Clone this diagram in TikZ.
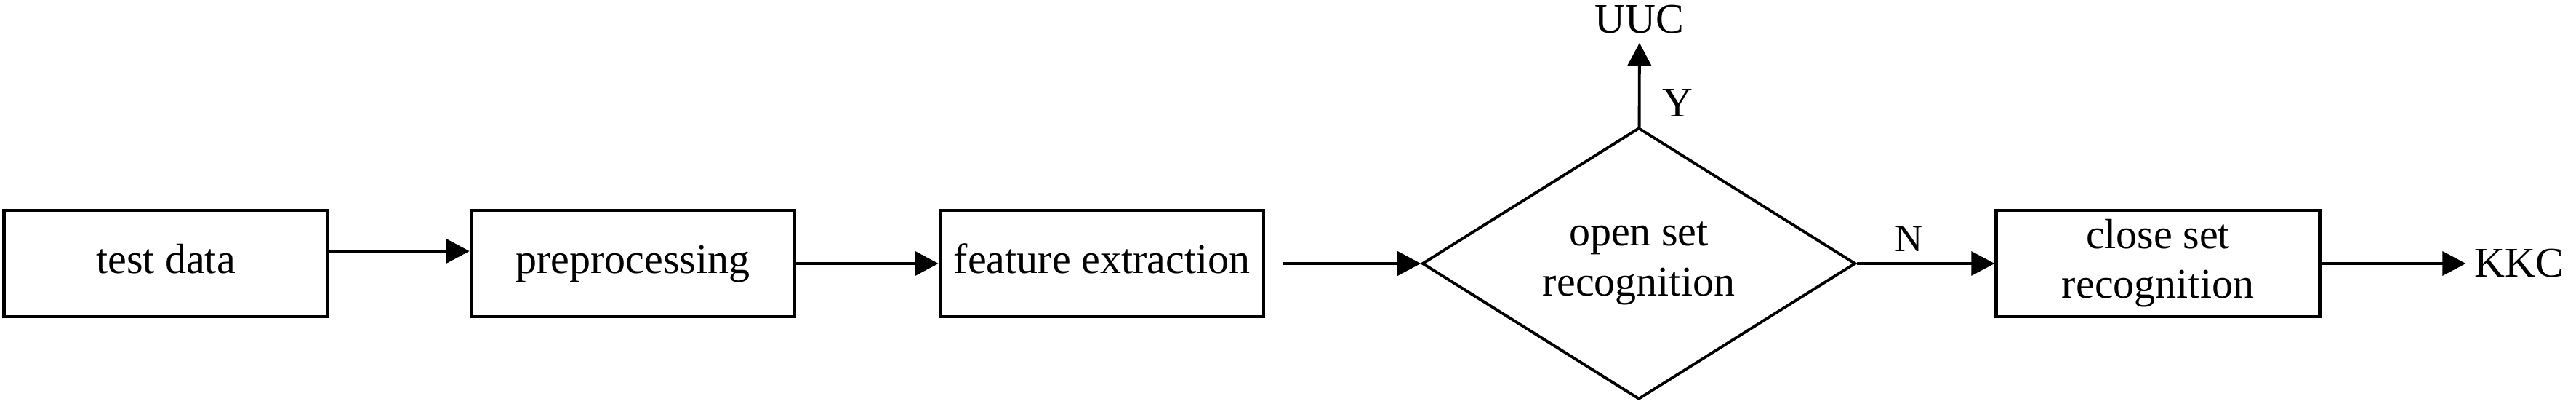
\documentclass[tikz,border=0pt]{standalone}
\usepackage{fontspec}
\setmainfont{Liberation Serif}
\usetikzlibrary{shapes.geometric,arrows.meta}
\begin{document}
\begin{tikzpicture}[
    boxstyle/.style={rectangle, draw=black, line width=1.3pt, minimum width=4.45cm, minimum height=1.46cm, text centered, font=\fontsize{16.5}{19.4}\selectfont, execute at begin node=\strut},
    decisionstyle/.style={diamond, draw=black, line width=1.1pt, aspect=1.6, inner sep=0pt, minimum width=5.96cm, minimum height=3.73cm, text centered, font=\fontsize{16.5}{19.4}\selectfont},
    labelstyle/.style={font=\fontsize{16.5}{19.4}\selectfont},
    arrowstyle/.style={-{Triangle[length=0.32cm,width=0.33cm]}, line width=1.1pt}
]
    \useasboundingbox (0,0) rectangle (35.43,5.55);

    \node[boxstyle] (data) at (2.28,1.93) {test data};
    \node[boxstyle] (prep) at (8.705,1.93) {preprocessing};
    \node[boxstyle] (feat) at (15.155,1.93) {feature extraction};
    \node[decisionstyle] (open) at (22.54,1.93) {\parbox{3cm}{\centering open set \\ recognition}};
    \node[boxstyle] (close) at (29.68,1.93) {\parbox{4cm}{\centering close set \\ recognition}};

    \node[labelstyle] (uuc) at (22.55,5.28) {UUC};
    \node[labelstyle] (kkc) at (34.65,1.93) {KKC};
    \node[labelstyle] (yes) at (23.07,4.13) {Y};
    \node[labelstyle, font=\fontsize{15}{18}\selectfont] (no) at (26.25,2.27) {N};

    \draw[arrowstyle] ([yshift=1.7mm]data.east) -- ([yshift=1.7mm]data.east -| prep.west);
    \draw[arrowstyle] (prep) -- (feat);
    \draw[arrowstyle] ([xshift=2.5mm]feat.east) -- (open.west);
    \draw[arrowstyle] (open) -- (close);
    \draw[arrowstyle] (open) -- (uuc);
    \draw[arrowstyle] (close) -- (kkc);
\end{tikzpicture}
\end{document}
